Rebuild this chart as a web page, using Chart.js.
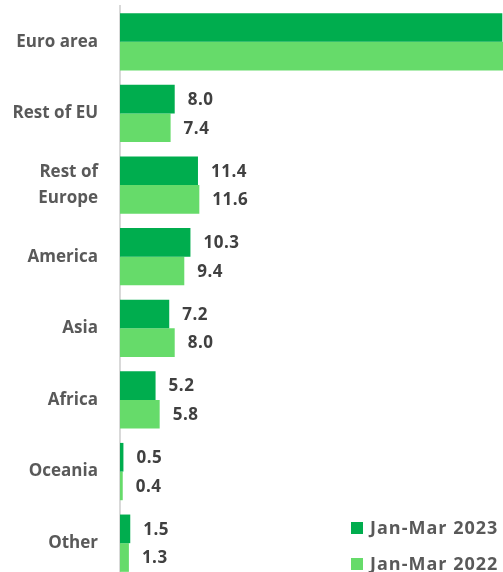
<!DOCTYPE html>
<html>
<head>
<meta charset="utf-8">
<script src="https://cdn.jsdelivr.net/npm/chart.js@4"></script>
<style>
  html, body { margin: 0; padding: 0; background: #fff; overflow: hidden; }
  #wrap { width: 503px; height: 579px; }
</style>
</head>
<body>
<div id="wrap"><canvas id="chart"></canvas></div>
<script>
const categories = ['Euro area', 'Rest of EU', ['Rest of', 'Europe'], 'America', 'Asia', 'Africa', 'Oceania', 'Other'];
const series2023 = [55.9, 8.0, 11.4, 10.3, 7.2, 5.2, 0.5, 1.5];
const series2022 = [56.1, 7.4, 11.6, 9.4, 8.0, 5.8, 0.4, 1.3];
const seriesNames = ['Jan-Mar 2023', 'Jan-Mar 2022'];

const darkGreen = '#00AD4E';
const lightGreen = '#66DB6A';
const fontFamily = '"Open Sans", Lato, sans-serif';

// value labels at the end of each bar
const valueLabels = {
    id: 'valueLabels',
    afterDatasetsDraw(chart) {
        const ctx = chart.ctx;
        ctx.save();
        ctx.font = 'bold 17px ' + fontFamily;
        ctx.letterSpacing = '0.5px';
        ctx.fillStyle = '#404040';
        ctx.textBaseline = 'middle';
        ctx.textAlign = 'left';
        chart.data.datasets.forEach((ds, i) => {
            chart.getDatasetMeta(i).data.forEach((bar, j) => {
                ctx.fillText(ds.data[j].toFixed(1), bar.x + 13, bar.y + 1);
            });
        });
        ctx.restore();
    }
};

// legend drawn inside the plot, bottom right
const cornerLegend = {
    id: 'cornerLegend',
    afterDraw(chart) {
        const ctx = chart.ctx;
        ctx.save();
        ctx.font = 'bold 18px ' + fontFamily;
        ctx.letterSpacing = '1px';
        ctx.textBaseline = 'middle';
        ctx.textAlign = 'left';
        chart.data.datasets.forEach((ds, i) => {
            const y = 528 + i * 36;
            ctx.fillStyle = ds.backgroundColor;
            ctx.fillRect(351, y - 6, 12, 12);
            ctx.fillStyle = '#595959';
            ctx.fillText(ds.label, 370, y + 1);
        });
        ctx.restore();
    }
};

new Chart(document.getElementById('chart'), {
    type: 'bar',
    data: {
        labels: categories,
        datasets: [
            { label: seriesNames[0], data: series2023, backgroundColor: darkGreen },
            { label: seriesNames[1], data: series2022, backgroundColor: lightGreen }
        ]
    },
    options: {
        indexAxis: 'y',
        responsive: true,
        maintainAspectRatio: false,
        animation: false,
        layout: { padding: { top: 6, right: 0, bottom: 0, left: 0 } },
        datasets: { bar: { categoryPercentage: 0.8, barPercentage: 1.0 } },
        plugins: {
            legend: { display: false },
            tooltip: { enabled: false }
        },
        scales: {
            x: {
                display: false,
                min: 0,
                max: 56
            },
            y: {
                grid: { display: false, drawTicks: false },
                border: { display: true, color: '#D9D9D9', width: 2 },
                ticks: {
                    color: '#595959',
                    padding: 22,
                    font: { family: fontFamily, size: 17, weight: 'bold', lineHeight: 1.5 }
                },
                afterFit(scale) {
                    scale.width = 120;
                    scale.paddingTop = 0;
                    scale.paddingBottom = 0;
                }
            }
        }
    },
    plugins: [valueLabels, cornerLegend]
});
</script>
</body>
</html>
